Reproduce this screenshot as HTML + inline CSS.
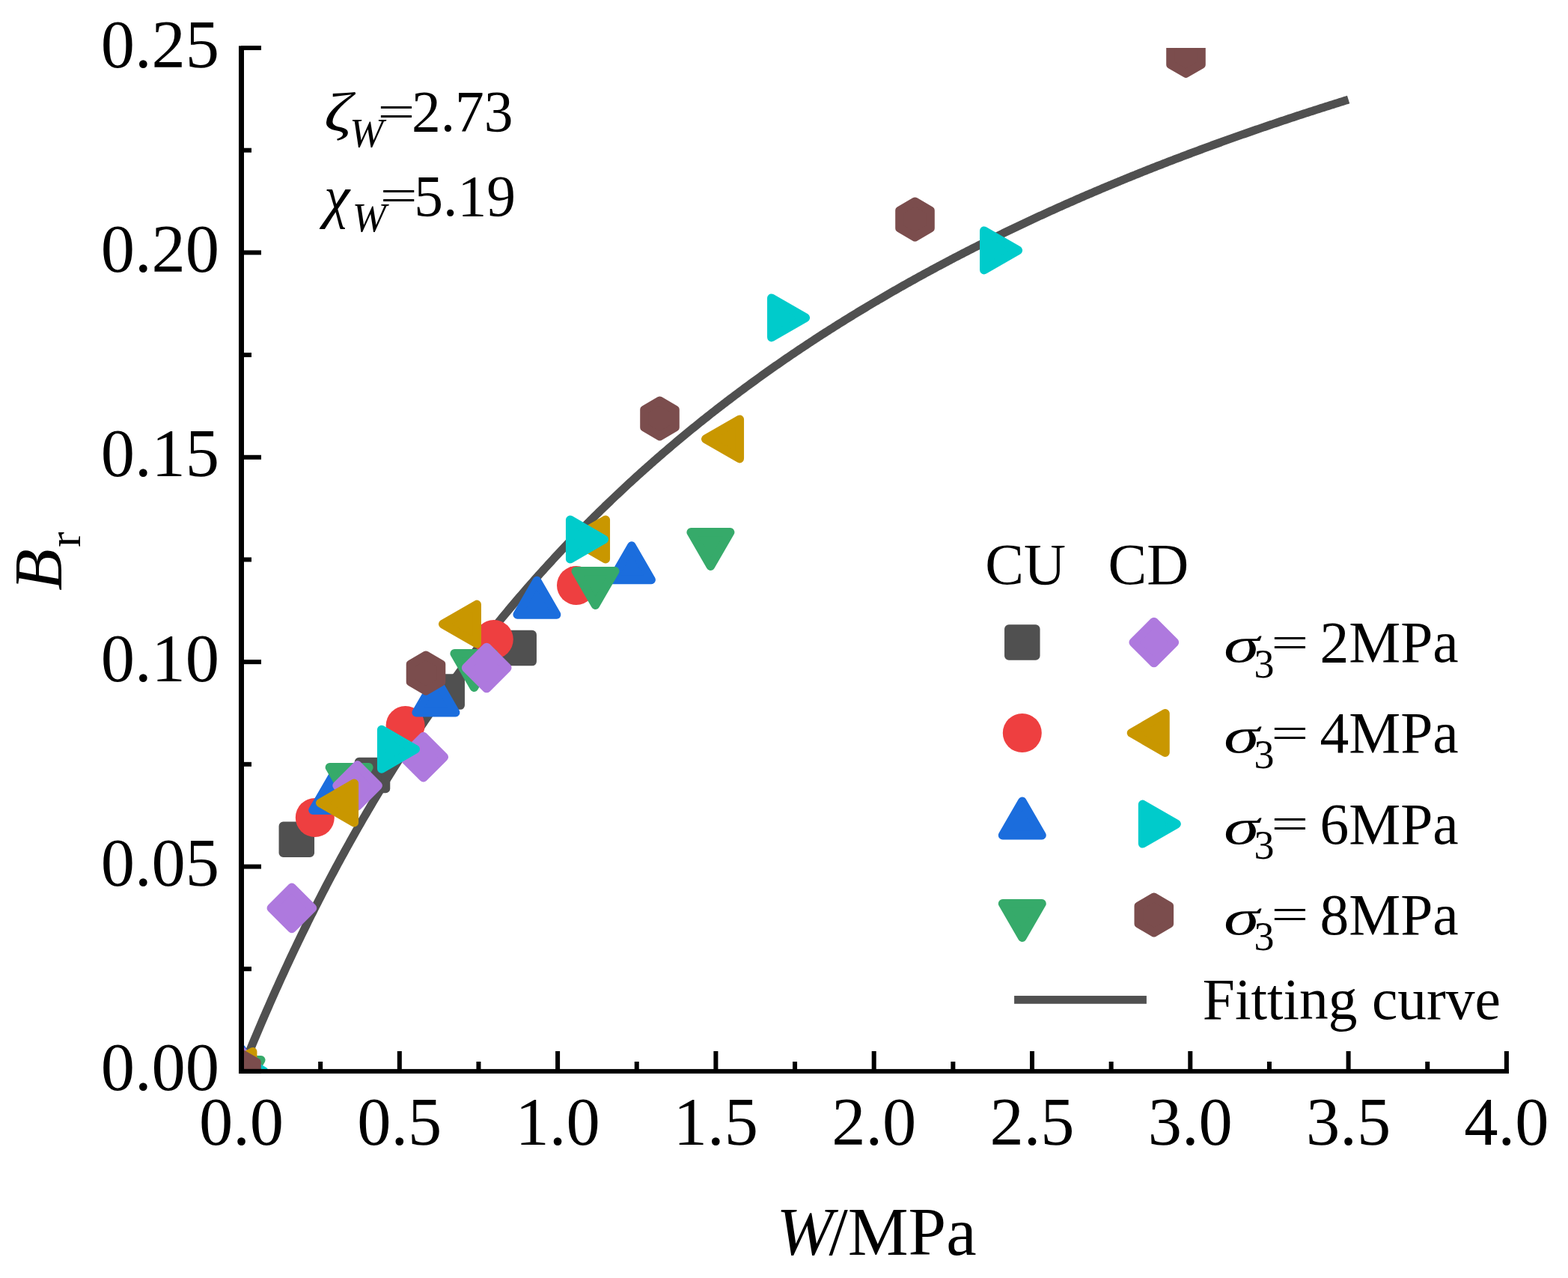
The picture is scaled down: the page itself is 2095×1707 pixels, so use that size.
<!DOCTYPE html>
<html><head><meta charset="utf-8"><title>B_r vs W</title>
<style>html,body{margin:0;padding:0;background:#fff;overflow:hidden}svg{display:block}text{font-family:"Liberation Serif","Times New Roman",serif;fill:#000}.mk path{stroke-width:11.70;stroke-linejoin:round}</style></head><body>
<svg width="2095" height="1707" viewBox="0 0 2095 1707">
<rect width="2095" height="1707" fill="#fff"/>
<defs><clipPath id="pc"><rect x="322.5" y="64.00" width="1690.40" height="1366.90"/></clipPath></defs>
<path d="M322.50,1430.90 L324.61,1425.65 L326.73,1420.42 L328.84,1415.22 L330.95,1410.05 L333.06,1404.90 L335.18,1399.79 L337.29,1394.69 L339.40,1389.63 L341.52,1384.59 L343.63,1379.58 L345.74,1374.59 L347.86,1369.62 L349.97,1364.69 L352.08,1359.77 L354.19,1354.89 L356.31,1350.02 L358.42,1345.19 L360.53,1340.37 L362.65,1335.58 L364.76,1330.82 L366.87,1326.07 L368.99,1321.35 L371.10,1316.66 L373.21,1311.99 L375.32,1307.34 L377.44,1302.71 L379.55,1298.11 L381.66,1293.53 L383.78,1288.97 L385.89,1284.43 L388.00,1279.92 L390.12,1275.43 L392.23,1270.96 L394.34,1266.51 L396.45,1262.08 L398.57,1257.67 L400.68,1253.29 L402.79,1248.92 L404.91,1244.58 L407.02,1240.26 L409.13,1235.96 L411.25,1231.67 L413.36,1227.41 L415.47,1223.17 L417.59,1218.95 L419.70,1214.75 L421.81,1210.57 L423.92,1206.40 L426.04,1202.26 L428.15,1198.14 L430.26,1194.03 L432.38,1189.95 L434.49,1185.88 L436.60,1181.83 L438.72,1177.80 L440.83,1173.79 L442.94,1169.80 L445.05,1165.82 L447.17,1161.87 L449.28,1157.93 L451.39,1154.01 L453.51,1150.11 L455.62,1146.22 L457.73,1142.35 L459.85,1138.50 L461.96,1134.67 L464.07,1130.85 L466.18,1127.06 L468.30,1123.27 L470.41,1119.51 L472.52,1115.76 L474.64,1112.03 L476.75,1108.31 L478.86,1104.61 L480.98,1100.93 L483.09,1097.26 L485.20,1093.61 L487.31,1089.98 L489.43,1086.36 L491.54,1082.76 L493.65,1079.17 L495.77,1075.60 L497.88,1072.04 L499.99,1068.50 L502.11,1064.97 L504.22,1061.46 L506.33,1057.97 L508.44,1054.48 L510.56,1051.02 L512.67,1047.57 L514.78,1044.13 L516.90,1040.71 L519.01,1037.30 L521.12,1033.91 L523.24,1030.53 L525.35,1027.16 L527.46,1023.81 L529.57,1020.48 L531.69,1017.15 L533.80,1013.84 L535.91,1010.55 L538.03,1007.27 L540.14,1004.00 L542.25,1000.75 L544.37,997.50 L546.48,994.28 L548.59,991.06 L550.70,987.86 L552.82,984.67 L554.93,981.50 L557.04,978.33 L559.16,975.19 L561.27,972.05 L563.38,968.92 L565.50,965.81 L567.61,962.71 L569.72,959.63 L571.83,956.55 L573.95,953.49 L576.06,950.44 L578.17,947.41 L580.29,944.38 L582.40,941.37 L584.51,938.37 L586.62,935.38 L588.74,932.40 L590.85,929.43 L592.96,926.48 L595.08,923.54 L597.19,920.61 L599.30,917.69 L601.42,914.78 L603.53,911.88 L605.64,909.00 L607.76,906.12 L609.87,903.26 L611.98,900.41 L614.09,897.57 L616.21,894.74 L618.32,891.92 L620.43,889.11 L622.55,886.31 L624.66,883.52 L626.77,880.75 L628.88,877.98 L631.00,875.23 L633.11,872.48 L635.22,869.75 L637.34,867.02 L639.45,864.31 L641.56,861.61 L643.68,858.91 L645.79,856.23 L647.90,853.56 L650.02,850.89 L652.13,848.24 L654.24,845.60 L656.35,842.96 L658.47,840.34 L660.58,837.72 L662.69,835.12 L664.81,832.52 L666.92,829.94 L669.03,827.36 L671.14,824.80 L673.26,822.24 L675.37,819.69 L677.48,817.15 L679.60,814.62 L681.71,812.10 L683.82,809.59 L685.94,807.09 L688.05,804.60 L690.16,802.12 L692.28,799.64 L694.39,797.18 L696.50,794.72 L698.61,792.27 L700.73,789.83 L702.84,787.40 L704.95,784.98 L707.07,782.57 L709.18,780.16 L711.29,777.76 L713.40,775.38 L715.52,773.00 L717.63,770.63 L719.74,768.26 L721.86,765.91 L723.97,763.56 L726.08,761.22 L728.20,758.90 L730.31,756.57 L732.42,754.26 L734.54,751.95 L736.65,749.66 L738.76,747.37 L740.87,745.09 L742.99,742.81 L745.10,740.55 L747.21,738.29 L749.33,736.04 L751.44,733.80 L753.55,731.56 L755.66,729.33 L757.78,727.11 L759.89,724.90 L762.00,722.70 L764.12,720.50 L766.23,718.31 L768.34,716.13 L770.46,713.95 L772.57,711.79 L774.68,709.63 L776.80,707.47 L778.91,705.33 L781.02,703.19 L783.13,701.06 L785.25,698.93 L787.36,696.81 L789.47,694.70 L791.59,692.60 L793.70,690.51 L795.81,688.42 L797.92,686.33 L800.04,684.26 L802.15,682.19 L804.26,680.13 L806.38,678.07 L808.49,676.02 L810.60,673.98 L812.72,671.95 L814.83,669.92 L816.94,667.90 L819.06,665.88 L821.17,663.87 L823.28,661.87 L825.39,659.88 L827.51,657.89 L829.62,655.90 L831.73,653.93 L833.85,651.96 L835.96,649.99 L838.07,648.04 L840.19,646.08 L842.30,644.14 L844.41,642.20 L846.52,640.27 L848.64,638.34 L850.75,636.42 L852.86,634.51 L854.98,632.60 L857.09,630.70 L859.20,628.80 L861.31,626.91 L863.43,625.03 L865.54,623.15 L867.65,621.28 L869.77,619.41 L871.88,617.55 L873.99,615.69 L876.11,613.84 L878.22,612.00 L880.33,610.16 L882.45,608.33 L884.56,606.50 L886.67,604.68 L888.78,602.87 L890.90,601.06 L893.01,599.26 L895.12,597.46 L897.24,595.66 L899.35,593.88 L901.46,592.10 L903.58,590.32 L905.69,588.55 L907.80,586.78 L909.91,585.02 L912.03,583.27 L914.14,581.52 L916.25,579.77 L918.37,578.03 L920.48,576.30 L922.59,574.57 L924.71,572.85 L926.82,571.13 L928.93,569.42 L931.04,567.71 L933.16,566.01 L935.27,564.31 L937.38,562.61 L939.50,560.93 L941.61,559.24 L943.72,557.57 L945.84,555.89 L947.95,554.23 L950.06,552.56 L952.17,550.91 L954.29,549.25 L956.40,547.60 L958.51,545.96 L960.63,544.32 L962.74,542.69 L964.85,541.06 L966.97,539.44 L969.08,537.82 L971.19,536.20 L973.30,534.59 L975.42,532.99 L977.53,531.39 L979.64,529.79 L981.76,528.20 L983.87,526.61 L985.98,525.03 L988.10,523.45 L990.21,521.88 L992.32,520.31 L994.43,518.74 L996.55,517.18 L998.66,515.63 L1000.77,514.08 L1002.89,512.53 L1005.00,510.99 L1007.11,509.45 L1009.23,507.92 L1011.34,506.39 L1013.45,504.86 L1015.56,503.34 L1017.68,501.83 L1019.79,500.32 L1021.90,498.81 L1024.02,497.31 L1026.13,495.81 L1028.24,494.31 L1030.36,492.82 L1032.47,491.33 L1034.58,489.85 L1036.69,488.37 L1038.81,486.90 L1040.92,485.43 L1043.03,483.96 L1045.15,482.50 L1047.26,481.04 L1049.37,479.59 L1051.49,478.14 L1053.60,476.69 L1055.71,475.25 L1057.82,473.81 L1059.94,472.38 L1062.05,470.95 L1064.16,469.52 L1066.28,468.10 L1068.39,466.68 L1070.50,465.27 L1072.62,463.86 L1074.73,462.45 L1076.84,461.05 L1078.95,459.65 L1081.07,458.25 L1083.18,456.86 L1085.29,455.47 L1087.41,454.09 L1089.52,452.71 L1091.63,451.33 L1093.74,449.96 L1095.86,448.59 L1097.97,447.22 L1100.08,445.86 L1102.20,444.50 L1104.31,443.15 L1106.42,441.80 L1108.54,440.45 L1110.65,439.11 L1112.76,437.77 L1114.88,436.43 L1116.99,435.10 L1119.10,433.77 L1121.21,432.44 L1123.33,431.12 L1125.44,429.80 L1127.55,428.48 L1129.67,427.17 L1131.78,425.86 L1133.89,424.55 L1136.01,423.25 L1138.12,421.95 L1140.23,420.66 L1142.34,419.37 L1144.46,418.08 L1146.57,416.79 L1148.68,415.51 L1150.80,414.23 L1152.91,412.96 L1155.02,411.68 L1157.14,410.42 L1159.25,409.15 L1161.36,407.89 L1163.47,406.63 L1165.59,405.37 L1167.70,404.12 L1169.81,402.87 L1171.93,401.63 L1174.04,400.38 L1176.15,399.14 L1178.26,397.91 L1180.38,396.67 L1182.49,395.44 L1184.60,394.21 L1186.72,392.99 L1188.83,391.77 L1190.94,390.55 L1193.06,389.34 L1195.17,388.13 L1197.28,386.92 L1199.39,385.71 L1201.51,384.51 L1203.62,383.31 L1205.73,382.11 L1207.85,380.92 L1209.96,379.73 L1212.07,378.54 L1214.19,377.35 L1216.30,376.17 L1218.41,374.99 L1220.53,373.82 L1222.64,372.65 L1224.75,371.48 L1226.86,370.31 L1228.98,369.14 L1231.09,367.98 L1233.20,366.82 L1235.32,365.67 L1237.43,364.51 L1239.54,363.36 L1241.65,362.22 L1243.77,361.07 L1245.88,359.93 L1247.99,358.79 L1250.11,357.66 L1252.22,356.52 L1254.33,355.39 L1256.45,354.27 L1258.56,353.14 L1260.67,352.02 L1262.79,350.90 L1264.90,349.78 L1267.01,348.67 L1269.12,347.56 L1271.24,346.45 L1273.35,345.34 L1275.46,344.24 L1277.58,343.14 L1279.69,342.04 L1281.80,340.94 L1283.91,339.85 L1286.03,338.76 L1288.14,337.67 L1290.25,336.59 L1292.37,335.50 L1294.48,334.42 L1296.59,333.35 L1298.71,332.27 L1300.82,331.20 L1302.93,330.13 L1305.05,329.06 L1307.16,328.00 L1309.27,326.94 L1311.38,325.88 L1313.50,324.82 L1315.61,323.76 L1317.72,322.71 L1319.84,321.66 L1321.95,320.62 L1324.06,319.57 L1326.18,318.53 L1328.29,317.49 L1330.40,316.45 L1332.51,315.42 L1334.63,314.38 L1336.74,313.35 L1338.85,312.32 L1340.97,311.30 L1343.08,310.28 L1345.19,309.26 L1347.31,308.24 L1349.42,307.22 L1351.53,306.21 L1353.64,305.20 L1355.76,304.19 L1357.87,303.18 L1359.98,302.18 L1362.10,301.17 L1364.21,300.17 L1366.32,299.18 L1368.44,298.18 L1370.55,297.19 L1372.66,296.20 L1374.77,295.21 L1376.89,294.22 L1379.00,293.24 L1381.11,292.26 L1383.23,291.28 L1385.34,290.30 L1387.45,289.33 L1389.57,288.35 L1391.68,287.38 L1393.79,286.41 L1395.90,285.45 L1398.02,284.48 L1400.13,283.52 L1402.24,282.56 L1404.36,281.60 L1406.47,280.65 L1408.58,279.69 L1410.70,278.74 L1412.81,277.79 L1414.92,276.85 L1417.03,275.90 L1419.15,274.96 L1421.26,274.02 L1423.37,273.08 L1425.49,272.14 L1427.60,271.21 L1429.71,270.28 L1431.83,269.35 L1433.94,268.42 L1436.05,267.49 L1438.16,266.57 L1440.28,265.65 L1442.39,264.73 L1444.50,263.81 L1446.62,262.89 L1448.73,261.98 L1450.84,261.06 L1452.95,260.15 L1455.07,259.25 L1457.18,258.34 L1459.29,257.44 L1461.41,256.53 L1463.52,255.63 L1465.63,254.74 L1467.75,253.84 L1469.86,252.94 L1471.97,252.05 L1474.09,251.16 L1476.20,250.27 L1478.31,249.39 L1480.42,248.50 L1482.54,247.62 L1484.65,246.74 L1486.76,245.86 L1488.88,244.98 L1490.99,244.11 L1493.10,243.23 L1495.21,242.36 L1497.33,241.49 L1499.44,240.62 L1501.55,239.76 L1503.67,238.89 L1505.78,238.03 L1507.89,237.17 L1510.01,236.31 L1512.12,235.46 L1514.23,234.60 L1516.35,233.75 L1518.46,232.90 L1520.57,232.05 L1522.68,231.20 L1524.80,230.35 L1526.91,229.51 L1529.02,228.67 L1531.14,227.82 L1533.25,226.99 L1535.36,226.15 L1537.48,225.31 L1539.59,224.48 L1541.70,223.65 L1543.81,222.82 L1545.93,221.99 L1548.04,221.16 L1550.15,220.34 L1552.27,219.51 L1554.38,218.69 L1556.49,217.87 L1558.61,217.05 L1560.72,216.24 L1562.83,215.42 L1564.94,214.61 L1567.06,213.80 L1569.17,212.99 L1571.28,212.18 L1573.40,211.37 L1575.51,210.57 L1577.62,209.77 L1579.74,208.96 L1581.85,208.16 L1583.96,207.37 L1586.07,206.57 L1588.19,205.77 L1590.30,204.98 L1592.41,204.19 L1594.53,203.40 L1596.64,202.61 L1598.75,201.82 L1600.87,201.04 L1602.98,200.25 L1605.09,199.47 L1607.20,198.69 L1609.32,197.91 L1611.43,197.14 L1613.54,196.36 L1615.66,195.59 L1617.77,194.81 L1619.88,194.04 L1622.00,193.27 L1624.11,192.50 L1626.22,191.74 L1628.33,190.97 L1630.45,190.21 L1632.56,189.45 L1634.67,188.69 L1636.79,187.93 L1638.90,187.17 L1641.01,186.41 L1643.12,185.66 L1645.24,184.91 L1647.35,184.16 L1649.46,183.41 L1651.58,182.66 L1653.69,181.91 L1655.80,181.17 L1657.92,180.42 L1660.03,179.68 L1662.14,178.94 L1664.26,178.20 L1666.37,177.46 L1668.48,176.72 L1670.59,175.99 L1672.71,175.25 L1674.82,174.52 L1676.93,173.79 L1679.05,173.06 L1681.16,172.33 L1683.27,171.61 L1685.39,170.88 L1687.50,170.16 L1689.61,169.44 L1691.72,168.71 L1693.84,168.00 L1695.95,167.28 L1698.06,166.56 L1700.18,165.84 L1702.29,165.13 L1704.40,164.42 L1706.52,163.71 L1708.63,163.00 L1710.74,162.29 L1712.85,161.58 L1714.97,160.88 L1717.08,160.17 L1719.19,159.47 L1721.31,158.77 L1723.42,158.07 L1725.53,157.37 L1727.65,156.67 L1729.76,155.97 L1731.87,155.28 L1733.98,154.58 L1736.10,153.89 L1738.21,153.20 L1740.32,152.51 L1742.44,151.82 L1744.55,151.14 L1746.66,150.45 L1748.78,149.76 L1750.89,149.08 L1753.00,148.40 L1755.11,147.72 L1757.23,147.04 L1759.34,146.36 L1761.45,145.68 L1763.57,145.01 L1765.68,144.33 L1767.79,143.66 L1769.90,142.99 L1772.02,142.32 L1774.13,141.65 L1776.24,140.98 L1778.36,140.32 L1780.47,139.65 L1782.58,138.99 L1784.70,138.32 L1786.81,137.66 L1788.92,137.00 L1791.04,136.34 L1793.15,135.68 L1795.26,135.03 L1797.37,134.37 L1799.49,133.72 L1801.60,133.06" fill="none" stroke="#505050" stroke-width="11.0" stroke-linecap="butt" stroke-linejoin="round" clip-path="url(#pc)"/>
<g class="mk" clip-path="url(#pc)">
<path d="M378.40,1103.40 L414.20,1103.40 L414.20,1139.20 L378.40,1139.20 Z" fill="#505050" stroke="#505050"/>
<path d="M479.60,1017.60 L515.40,1017.60 L515.40,1053.40 L479.60,1053.40 Z" fill="#505050" stroke="#505050"/>
<path d="M579.30,906.20 L615.10,906.20 L615.10,942.00 L579.30,942.00 Z" fill="#505050" stroke="#505050"/>
<path d="M675.30,847.70 L711.10,847.70 L711.10,883.50 L675.30,883.50 Z" fill="#505050" stroke="#505050"/>
<circle cx="322.50" cy="1430.90" r="26" fill="#EE3F40"/>
<circle cx="420.80" cy="1092.00" r="26" fill="#EE3F40"/>
<circle cx="541.60" cy="969.10" r="26" fill="#EE3F40"/>
<circle cx="659.80" cy="854.00" r="26" fill="#EE3F40"/>
<circle cx="770.00" cy="781.90" r="26" fill="#EE3F40"/>
<path d="M322.50,1400.70 L348.65,1446.00 L296.35,1446.00 Z" fill="#1B6DDD" stroke="#1B6DDD"/>
<path d="M444.20,1036.80 L470.35,1082.10 L418.05,1082.10 Z" fill="#1B6DDD" stroke="#1B6DDD"/>
<path d="M582.40,906.40 L608.55,951.70 L556.25,951.70 Z" fill="#1B6DDD" stroke="#1B6DDD"/>
<path d="M717.40,775.60 L743.55,820.90 L691.25,820.90 Z" fill="#1B6DDD" stroke="#1B6DDD"/>
<path d="M843.90,729.10 L870.05,774.40 L817.75,774.40 Z" fill="#1B6DDD" stroke="#1B6DDD"/>
<path d="M322.50,1461.10 L348.65,1415.80 L296.35,1415.80 Z" fill="#36AA6A" stroke="#36AA6A"/>
<path d="M466.60,1070.20 L492.75,1024.90 L440.45,1024.90 Z" fill="#36AA6A" stroke="#36AA6A"/>
<path d="M633.40,918.20 L659.55,872.90 L607.25,872.90 Z" fill="#36AA6A" stroke="#36AA6A"/>
<path d="M795.50,808.20 L821.65,762.90 L769.35,762.90 Z" fill="#36AA6A" stroke="#36AA6A"/>
<path d="M949.40,756.20 L975.55,710.90 L923.25,710.90 Z" fill="#36AA6A" stroke="#36AA6A"/>
<path d="M322.50,1403.40 L350.00,1430.90 L322.50,1458.40 L295.00,1430.90 Z" fill="#AE79DE" stroke="#AE79DE"/>
<path d="M389.90,1185.40 L417.40,1212.90 L389.90,1240.40 L362.40,1212.90 Z" fill="#AE79DE" stroke="#AE79DE"/>
<path d="M477.60,1021.80 L505.10,1049.30 L477.60,1076.80 L450.10,1049.30 Z" fill="#AE79DE" stroke="#AE79DE"/>
<path d="M565.70,983.70 L593.20,1011.20 L565.70,1038.70 L538.20,1011.20 Z" fill="#AE79DE" stroke="#AE79DE"/>
<path d="M650.20,864.50 L677.70,892.00 L650.20,919.50 L622.70,892.00 Z" fill="#AE79DE" stroke="#AE79DE"/>
<path d="M292.30,1430.90 L337.60,1404.75 L337.60,1457.05 Z" fill="#C99700" stroke="#C99700"/>
<path d="M427.90,1072.50 L473.20,1046.35 L473.20,1098.65 Z" fill="#C99700" stroke="#C99700"/>
<path d="M591.80,833.60 L637.10,807.45 L637.10,859.75 Z" fill="#C99700" stroke="#C99700"/>
<path d="M763.90,720.50 L809.20,694.35 L809.20,746.65 Z" fill="#C99700" stroke="#C99700"/>
<path d="M942.90,586.40 L988.20,560.25 L988.20,612.55 Z" fill="#C99700" stroke="#C99700"/>
<path d="M352.70,1430.90 L307.40,1404.75 L307.40,1457.05 Z" fill="#00CBCB" stroke="#00CBCB"/>
<path d="M555.10,1000.70 L509.80,974.55 L509.80,1026.85 Z" fill="#00CBCB" stroke="#00CBCB"/>
<path d="M807.10,720.50 L761.80,694.35 L761.80,746.65 Z" fill="#00CBCB" stroke="#00CBCB"/>
<path d="M1076.20,424.40 L1030.90,398.25 L1030.90,450.55 Z" fill="#00CBCB" stroke="#00CBCB"/>
<path d="M1360.20,334.40 L1314.90,308.25 L1314.90,360.55 Z" fill="#00CBCB" stroke="#00CBCB"/>
<path d="M322.50,1407.30 L342.94,1419.10 L342.94,1442.70 L322.50,1454.50 L302.06,1442.70 L302.06,1419.10 Z" fill="#7B4D4D" stroke="#7B4D4D"/>
<path d="M569.00,875.40 L589.44,887.20 L589.44,910.80 L569.00,922.60 L548.56,910.80 L548.56,887.20 Z" fill="#7B4D4D" stroke="#7B4D4D"/>
<path d="M881.50,535.40 L901.94,547.20 L901.94,570.80 L881.50,582.60 L861.06,570.80 L861.06,547.20 Z" fill="#7B4D4D" stroke="#7B4D4D"/>
<path d="M1222.50,269.40 L1242.94,281.20 L1242.94,304.80 L1222.50,316.60 L1202.06,304.80 L1202.06,281.20 Z" fill="#7B4D4D" stroke="#7B4D4D"/>
<path d="M1584.50,50.80 L1604.94,62.60 L1604.94,86.20 L1584.50,98.00 L1564.06,86.20 L1564.06,62.60 Z" fill="#7B4D4D" stroke="#7B4D4D"/>
</g>
<g fill="#000">
<rect x="319" y="61.3" width="7" height="1372.6"/>
<rect x="319" y="1427.9" width="1697" height="6"/>
<rect x="322" y="1427.90" width="27.0" height="6"/>
<rect x="322" y="1291.21" width="14.0" height="6"/>
<rect x="322" y="1154.52" width="27.0" height="6"/>
<rect x="322" y="1017.83" width="14.0" height="6"/>
<rect x="322" y="881.14" width="27.0" height="6"/>
<rect x="322" y="744.45" width="14.0" height="6"/>
<rect x="322" y="607.76" width="27.0" height="6"/>
<rect x="322" y="471.07" width="14.0" height="6"/>
<rect x="322" y="334.38" width="27.0" height="6"/>
<rect x="322" y="197.69" width="14.0" height="6"/>
<rect x="322" y="61.00" width="27.0" height="6"/>
<rect x="319.50" y="1404.0" width="6" height="27.0"/>
<rect x="425.15" y="1418.0" width="6" height="13.0"/>
<rect x="530.80" y="1404.0" width="6" height="27.0"/>
<rect x="636.45" y="1418.0" width="6" height="13.0"/>
<rect x="742.10" y="1404.0" width="6" height="27.0"/>
<rect x="847.75" y="1418.0" width="6" height="13.0"/>
<rect x="953.40" y="1404.0" width="6" height="27.0"/>
<rect x="1059.05" y="1418.0" width="6" height="13.0"/>
<rect x="1164.70" y="1404.0" width="6" height="27.0"/>
<rect x="1270.35" y="1418.0" width="6" height="13.0"/>
<rect x="1376.00" y="1404.0" width="6" height="27.0"/>
<rect x="1481.65" y="1418.0" width="6" height="13.0"/>
<rect x="1587.30" y="1404.0" width="6" height="27.0"/>
<rect x="1692.95" y="1418.0" width="6" height="13.0"/>
<rect x="1798.60" y="1404.0" width="6" height="27.0"/>
<rect x="1904.25" y="1418.0" width="6" height="13.0"/>
<rect x="2009.90" y="1404.0" width="6" height="27.0"/>
</g>
<text x="293" y="1456.4" font-size="90.5" text-anchor="end">0.00</text>
<text x="293" y="1183.0" font-size="90.5" text-anchor="end">0.05</text>
<text x="293" y="909.6" font-size="90.5" text-anchor="end">0.10</text>
<text x="293" y="636.3" font-size="90.5" text-anchor="end">0.15</text>
<text x="293" y="362.9" font-size="90.5" text-anchor="end">0.20</text>
<text x="293" y="89.5" font-size="90.5" text-anchor="end">0.25</text>
<text x="322.5" y="1528.8" font-size="90.5" text-anchor="middle">0.0</text>
<text x="533.8" y="1528.8" font-size="90.5" text-anchor="middle">0.5</text>
<text x="745.1" y="1528.8" font-size="90.5" text-anchor="middle">1.0</text>
<text x="956.4" y="1528.8" font-size="90.5" text-anchor="middle">1.5</text>
<text x="1167.7" y="1528.8" font-size="90.5" text-anchor="middle">2.0</text>
<text x="1379.0" y="1528.8" font-size="90.5" text-anchor="middle">2.5</text>
<text x="1590.3" y="1528.8" font-size="90.5" text-anchor="middle">3.0</text>
<text x="1801.6" y="1528.8" font-size="90.5" text-anchor="middle">3.5</text>
<text x="2012.9" y="1528.8" font-size="90.5" text-anchor="middle">4.0</text>
<text x="1037.6" y="1675.9" font-size="91" font-style="italic">W</text>
<text x="1107.4" y="1675.9" font-size="91">/MPa</text>
<g transform="rotate(-90)"><text x="-788.7" y="81.7" font-size="91" font-style="italic">B</text><text x="-731" y="107" font-size="62">r</text></g>
<text transform="translate(433,175) scale(1.18,0.96)" font-size="77.5" font-style="italic">ζ</text>
<text x="467.3" y="196.1" font-size="54" font-style="italic">W</text>
<text transform="translate(529.50,149.45) scale(1.14,0.75)" x="0" y="25.73" font-size="77.5" text-anchor="middle">=</text>
<text x="549.9" y="175.4" font-size="77.5">2.73</text>
<text x="433.1" y="288.5" font-size="77.5" font-style="italic">χ</text>
<text x="470.8" y="309.0" font-size="54" font-style="italic">W</text>
<text transform="translate(532.75,262.20) scale(1.14,0.75)" x="0" y="25.73" font-size="77.5" text-anchor="middle">=</text>
<text x="553.3" y="288.3" font-size="77.5">5.19</text>
<text x="1316.2" y="779.5" font-size="77.5">CU</text>
<text x="1480.6" y="779.5" font-size="77.5">CD</text>
<g class="mk">
<path d="M1347.90,840.10 L1383.70,840.10 L1383.70,875.90 L1347.90,875.90 Z" fill="#505050" stroke="#505050"/>
<path d="M1541.80,830.50 L1569.30,858.00 L1541.80,885.50 L1514.30,858.00 Z" fill="#AE79DE" stroke="#AE79DE"/>
<circle cx="1365.80" cy="979.00" r="26" fill="#EE3F40"/>
<path d="M1511.60,979.00 L1556.90,952.85 L1556.90,1005.15 Z" fill="#C99700" stroke="#C99700"/>
<path d="M1365.80,1070.40 L1391.95,1115.70 L1339.65,1115.70 Z" fill="#1B6DDD" stroke="#1B6DDD"/>
<path d="M1572.00,1100.60 L1526.70,1074.45 L1526.70,1126.75 Z" fill="#00CBCB" stroke="#00CBCB"/>
<path d="M1365.80,1252.20 L1391.95,1206.90 L1339.65,1206.90 Z" fill="#36AA6A" stroke="#36AA6A"/>
<path d="M1541.80,1198.40 L1562.24,1210.20 L1562.24,1233.80 L1541.80,1245.60 L1521.36,1233.80 L1521.36,1210.20 Z" fill="#7B4D4D" stroke="#7B4D4D"/>
</g>
<text transform="translate(1635,884.3) scale(1.245,0.865)" font-size="77.5" font-style="italic">σ</text>
<text x="1675.5" y="905.2" font-size="54">3</text>
<text transform="translate(1723.45,858.30) scale(1.14,0.75)" x="0" y="25.73" font-size="77.5" text-anchor="middle">=</text>
<text x="1763.5" y="884.3" font-size="77.5">2MPa</text>
<text transform="translate(1635,1005.4) scale(1.245,0.865)" font-size="77.5" font-style="italic">σ</text>
<text x="1675.5" y="1026.3" font-size="54">3</text>
<text transform="translate(1723.45,979.40) scale(1.14,0.75)" x="0" y="25.73" font-size="77.5" text-anchor="middle">=</text>
<text x="1763.5" y="1005.4" font-size="77.5">4MPa</text>
<text transform="translate(1635,1126.5) scale(1.245,0.865)" font-size="77.5" font-style="italic">σ</text>
<text x="1675.5" y="1147.4" font-size="54">3</text>
<text transform="translate(1723.45,1100.50) scale(1.14,0.75)" x="0" y="25.73" font-size="77.5" text-anchor="middle">=</text>
<text x="1763.5" y="1126.5" font-size="77.5">6MPa</text>
<text transform="translate(1635,1247.6) scale(1.245,0.865)" font-size="77.5" font-style="italic">σ</text>
<text x="1675.5" y="1268.5" font-size="54">3</text>
<text transform="translate(1723.45,1221.60) scale(1.14,0.75)" x="0" y="25.73" font-size="77.5" text-anchor="middle">=</text>
<text x="1763.5" y="1247.6" font-size="77.5">8MPa</text>
<rect x="1355.1" y="1330.05" width="176.8" height="10.7" fill="#505050"/>
<text x="1606.8" y="1360.6" font-size="77.5">Fitting curve</text>
</svg></body></html>
